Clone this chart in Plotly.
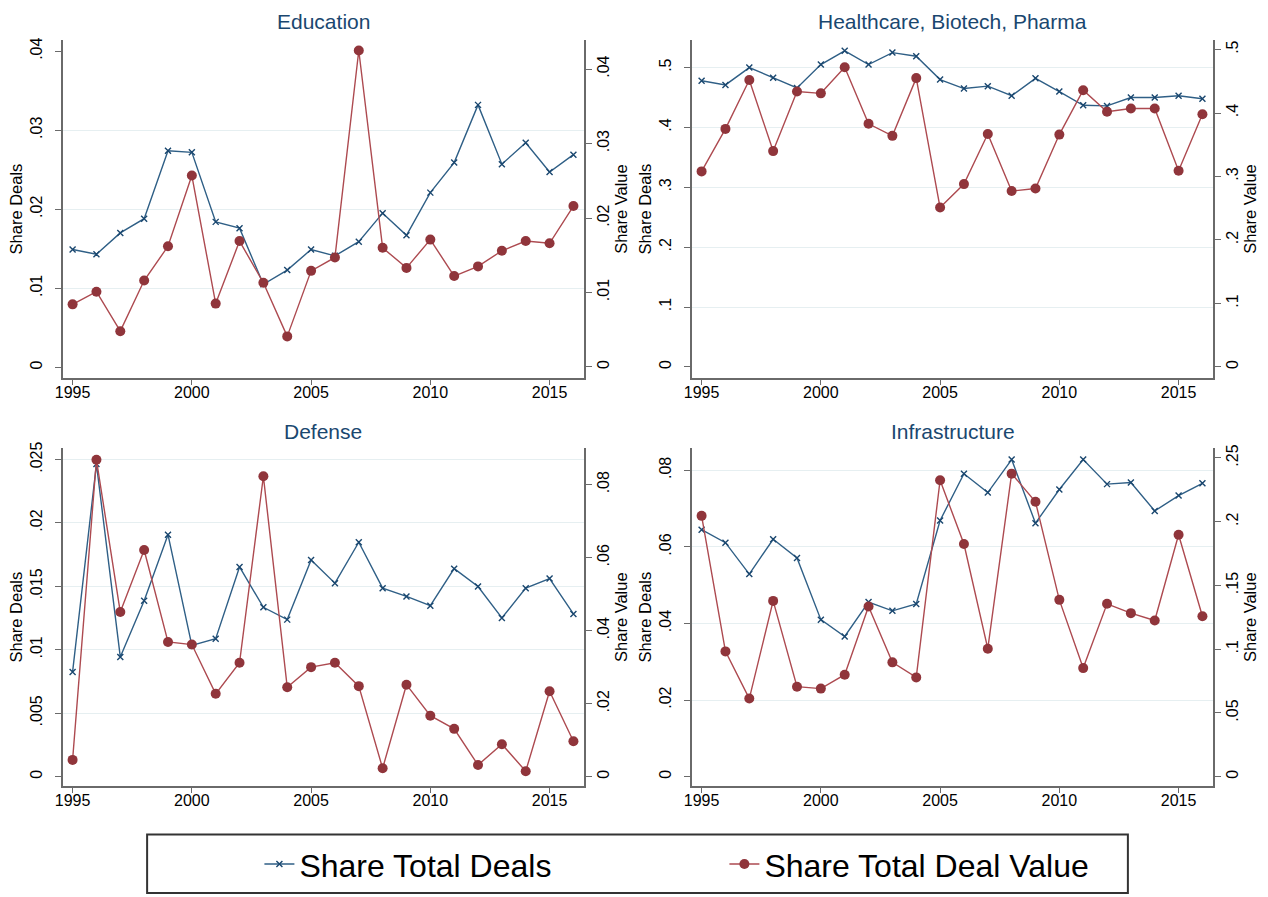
import plotly.graph_objects as go

years = list(range(1995, 2017))

edu_deals = [0.0149, 0.0143, 0.0170, 0.0188, 0.0274, 0.0272, 0.0184, 0.0176, 0.0105, 0.0123, 0.0149,
             0.0141, 0.0159, 0.0195, 0.0167, 0.0221, 0.0259, 0.0332, 0.0257, 0.0284, 0.0247, 0.0269]
edu_value = [0.0084, 0.0101, 0.0048, 0.0116, 0.0162, 0.0257, 0.0085, 0.0169, 0.0113, 0.0041, 0.0129,
             0.0147, 0.0425, 0.0160, 0.0133, 0.0171, 0.0122, 0.0135, 0.0156, 0.0169, 0.0166, 0.0216]

hc_deals = [0.478, 0.471, 0.500, 0.483, 0.466, 0.505, 0.528, 0.505, 0.525, 0.519, 0.480,
            0.465, 0.469, 0.453, 0.482, 0.460, 0.437, 0.436, 0.450, 0.450, 0.453, 0.448]
hc_value = [0.308, 0.375, 0.452, 0.340, 0.434, 0.431, 0.472, 0.383, 0.364, 0.455, 0.251,
            0.288, 0.367, 0.277, 0.281, 0.366, 0.436, 0.402, 0.407, 0.407, 0.309, 0.398]

def_deals = [0.00826, 0.02464, 0.00944, 0.01387, 0.01908, 0.01035, 0.01087, 0.01653, 0.01335, 0.01238, 0.01708,
             0.01525, 0.01848, 0.01486, 0.01421, 0.01348, 0.01640, 0.01499, 0.01251, 0.01486, 0.01562, 0.01283]
def_value = [0.0046, 0.0868, 0.0451, 0.0621, 0.0369, 0.0362, 0.0227, 0.0312, 0.0823, 0.0245, 0.0300,
             0.0312, 0.0248, 0.0023, 0.0252, 0.0167, 0.0131, 0.0032, 0.0089, 0.0015, 0.0234, 0.0097]

inf_deals = [0.0645, 0.0611, 0.0529, 0.0620, 0.0571, 0.0410, 0.0366, 0.0456, 0.0433, 0.0451, 0.0669,
             0.0791, 0.0742, 0.0828, 0.0662, 0.0750, 0.0828, 0.0764, 0.0768, 0.0694, 0.0734, 0.0766]
inf_value = [0.2046, 0.0983, 0.0613, 0.1379, 0.0706, 0.0691, 0.0800, 0.1335, 0.0897, 0.0779, 0.2325,
             0.1825, 0.1004, 0.2377, 0.2156, 0.1387, 0.0852, 0.1356, 0.1283, 0.1225, 0.1898, 0.1259]

panel_titles = ["Education", "Healthcare, Biotech, Pharma", "Defense", "Infrastructure"]
series_names = ["Share Total Deals", "Share Total Deal Value"]
left_title = "Share Deals"
right_title = "Share Value"

year_ticks = [1995, 2000, 2005, 2010, 2015]

edu_left_ticks = [0, 0.01, 0.02, 0.03, 0.04]
edu_left_text = ["0", ".01", ".02", ".03", ".04"]
edu_right_ticks = [0, 0.01, 0.02, 0.03, 0.04]
edu_right_text = ["0", ".01", ".02", ".03", ".04"]
edu_grid = [0.01, 0.02, 0.03]

hc_left_ticks = [0, 0.1, 0.2, 0.3, 0.4, 0.5]
hc_left_text = ["0", ".1", ".2", ".3", ".4", ".5"]
hc_right_ticks = [0, 0.1, 0.2, 0.3, 0.4, 0.5]
hc_right_text = ["0", ".1", ".2", ".3", ".4", ".5"]
hc_grid = [0.1, 0.2, 0.3, 0.4, 0.5]

def_left_ticks = [0, 0.005, 0.01, 0.015, 0.02, 0.025]
def_left_text = ["0", ".005", ".01", ".015", ".02", ".025"]
def_right_ticks = [0, 0.02, 0.04, 0.06, 0.08]
def_right_text = ["0", ".02", ".04", ".06", ".08"]
def_grid = [0.005, 0.01, 0.015, 0.02, 0.025]

inf_left_ticks = [0, 0.02, 0.04, 0.06, 0.08]
inf_left_text = ["0", ".02", ".04", ".06", ".08"]
inf_right_ticks = [0, 0.05, 0.1, 0.15, 0.2, 0.25]
inf_right_text = ["0", ".05", ".1", ".15", ".2", ".25"]
inf_grid = [0.02, 0.04, 0.06, 0.08]

# ---------------- styling / layout -----------------
W, H = 1268, 897
FONT = "Liberation Sans, Arial, Helvetica, sans-serif"
NAVY = "#1a476f"
BLUE_LINE = "#2f5f86"
RED = "#90353b"
RED_LINE = "#ad4a50"
AXIS = "#6a6a6a"
GRID = "#e6eff1"

x_dom = [[55 / W, 580 / W], [688 / W, 1213 / W]]
y_dom = [[1 - 374 / H, 1 - 33.3 / H], [1 - 785.3 / H, 1 - 444.6 / H]]
title_y = [1 - 15 / H, 1 - 428 / H]
xrange = [1994.583, 2016.458]

panels = [
    dict(deals=edu_deals, value=edu_value, lr=[-0.00136, 0.0414], rr=[-0.0015, 0.0439],
         lt=edu_left_ticks, ltt=edu_left_text, rt=edu_right_ticks, rtt=edu_right_text, grid=edu_grid,
         col=0, row=0),
    dict(deals=hc_deals, value=hc_value, lr=[-0.0187, 0.546], rr=[-0.0177, 0.515],
         lt=hc_left_ticks, ltt=hc_left_text, rt=hc_right_ticks, rtt=hc_right_text, grid=hc_grid,
         col=1, row=0),
    dict(deals=def_deals, value=def_value, lr=[-0.00075, 0.0259], rr=[-0.0026, 0.0900],
         lt=def_left_ticks, ltt=def_left_text, rt=def_right_ticks, rtt=def_right_text, grid=def_grid,
         col=0, row=1),
    dict(deals=inf_deals, value=inf_value, lr=[-0.0025, 0.0858], rr=[-0.0074, 0.2577],
         lt=inf_left_ticks, ltt=inf_left_text, rt=inf_right_ticks, rtt=inf_right_text, grid=inf_grid,
         col=1, row=1),
]

fig = go.Figure()
layout = {}
annotations = []
tickfont = dict(family=FONT, size=16, color="black")
titlefont = dict(family=FONT, size=16.5, color="black")

for i, p in enumerate(panels):
    xi = i + 1
    yl = 2 * i + 1
    yr = 2 * i + 2
    xname = "x" if xi == 1 else f"x{xi}"
    ylname = "y" if yl == 1 else f"y{yl}"
    yrname = f"y{yr}"

    fig.add_trace(go.Scatter(
        x=years, y=p["deals"], xaxis=xname, yaxis=ylname, mode="lines+markers",
        name=series_names[0], showlegend=(i == 0), legendgroup="deals",
        line=dict(color=BLUE_LINE, width=1.4),
        marker=dict(symbol="x-thin", size=6, color=NAVY, line=dict(color=NAVY, width=1.4)),
    ))
    fig.add_trace(go.Scatter(
        x=years, y=p["value"], xaxis=xname, yaxis=yrname, mode="lines+markers",
        name=series_names[1], showlegend=(i == 0), legendgroup="value",
        line=dict(color=RED_LINE, width=1.4),
        marker=dict(symbol="circle", size=10, color=RED, line=dict(width=0)),
    ))

    xd = x_dom[p["col"]]
    yd = y_dom[p["row"]]
    layout[f"xaxis{xi}" if xi > 1 else "xaxis"] = dict(
        domain=xd, anchor=ylname, range=xrange, tickmode="array", tickvals=year_ticks,
        ticks="outside", ticklen=5, tickwidth=1.3, tickcolor=AXIS, showline=True,
        linecolor=AXIS, linewidth=1.5, showgrid=False, zeroline=False, tickfont=tickfont,
        ticklabelstandoff=-6,
    )
    layout[f"yaxis{yl}" if yl > 1 else "yaxis"] = dict(
        domain=yd, anchor=xname, range=p["lr"], tickmode="array", tickvals=p["lt"], ticktext=p["ltt"],
        tickangle=-90, ticks="outside", ticklen=6, tickwidth=1.3, tickcolor=AXIS, showline=True,
        linecolor=AXIS, linewidth=1.5, showgrid=False, zeroline=False, tickfont=tickfont,
        ticklabelstandoff=7,
        minor=dict(tickmode="array", tickvals=p["grid"], showgrid=True, gridcolor=GRID, gridwidth=1.2, ticks=""),
        title=dict(text=left_title, font=titlefont, standoff=1),
    )
    layout[f"yaxis{yr}"] = dict(
        anchor=xname, overlaying=ylname, side="right", range=p["rr"], tickmode="array",
        tickvals=p["rt"], ticktext=p["rtt"], tickangle=-90, ticks="outside", ticklen=6, tickwidth=1.3,
        tickcolor=AXIS, showline=True, linecolor=AXIS, linewidth=1.5, showgrid=False, zeroline=False,
        tickfont=tickfont, ticklabelstandoff=-2, title=dict(text=right_title, font=titlefont, standoff=0),
    )
    annotations.append(dict(
        text=panel_titles[i], xref="paper", yref="paper", x=(xd[0] + xd[1]) / 2,
        y=title_y[p["row"]], xanchor="center", yanchor="middle", showarrow=False,
        font=dict(family=FONT, size=21, color=NAVY),
    ))

fig.update_layout(**layout)
fig.update_layout(
    width=W, height=H, margin=dict(l=0, r=0, t=0, b=0),
    paper_bgcolor="white", plot_bgcolor="white",
    font=dict(family=FONT, color="black"),
    annotations=annotations,
    shapes=[dict(type="rect", xref="paper", yref="paper", x0=140 / W, x1=1127 / W,
                 y0=1 - 893 / H, y1=1 - 834 / H, line=dict(color="#333333", width=2),
                 fillcolor="rgba(0,0,0,0)")],
    legend=dict(orientation="h", x=253 / W, xanchor="left", y=1 - 864 / H, yanchor="middle",
                font=dict(family=FONT, size=32, color="black"), bgcolor="rgba(0,0,0,0)",
                entrywidth=420, entrywidthmode="pixels", itemwidth=30, traceorder="normal"),
)

fig.write_html("out.html", post_script="document.body.style.margin='0';",
               config={"displayModeBar": False})
